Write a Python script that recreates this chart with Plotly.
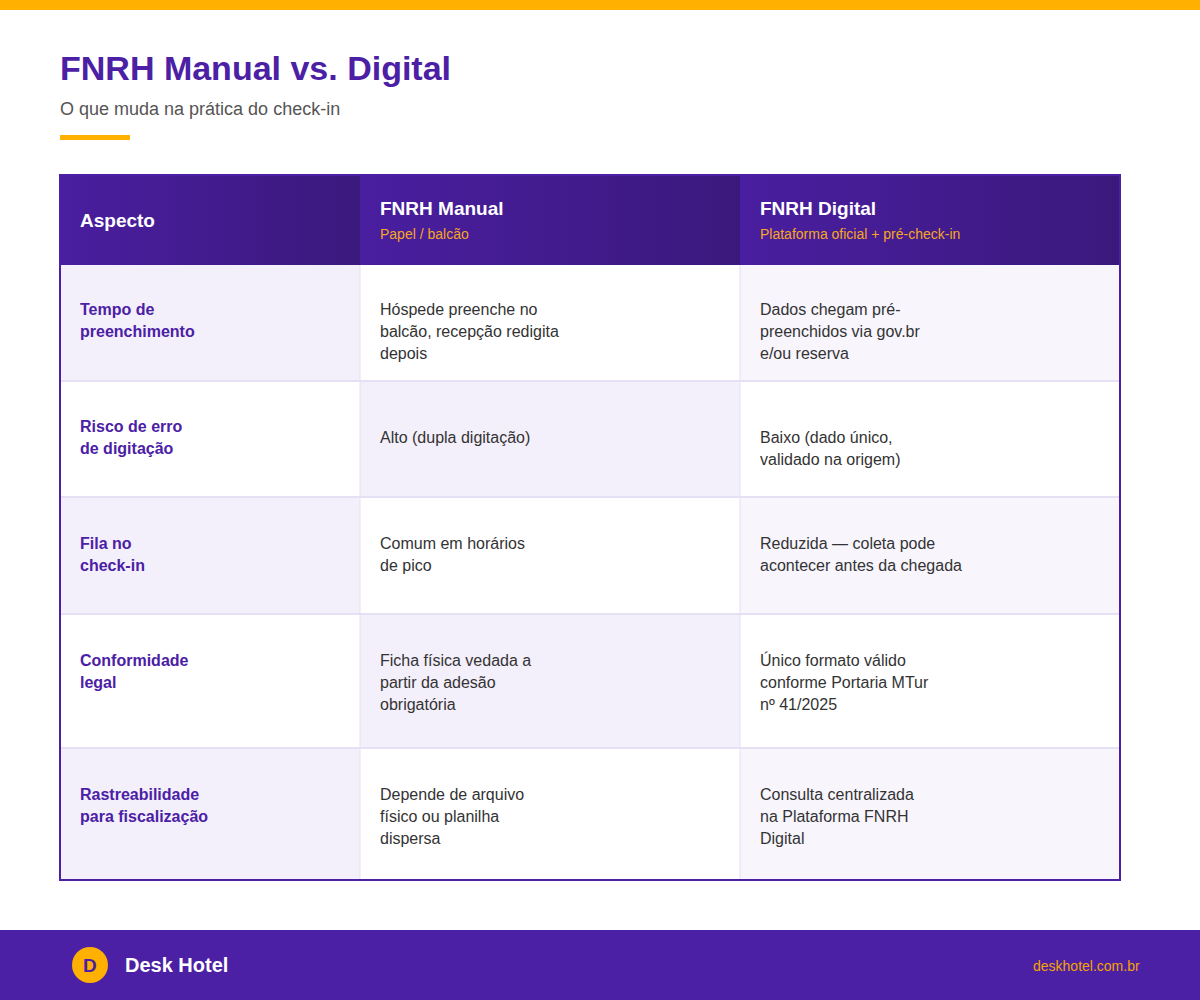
import plotly.graph_objects as go

# table content
headers = ["Aspecto", "FNRH Manual", "FNRH Digital"]
header_notes = ["", "Papel / balcão", "Plataforma oficial + pré-check-in"]
aspects = [
    "Tempo de\npreenchimento",
    "Risco de erro\nde digitação",
    "Fila no\ncheck-in",
    "Conformidade\nlegal",
    "Rastreabilidade\npara fiscalização",
]
manual = [
    "Hóspede preenche no\nbalcão, recepção redigita\ndepois",
    "Alto (dupla digitação)",
    "Comum em horários\nde pico",
    "Ficha física vedada a\npartir da adesão\nobrigatória",
    "Depende de arquivo\nfísico ou planilha\ndispersa",
]
digital = [
    "Dados chegam pré-\npreenchidos via gov.br\ne/ou reserva",
    "Baixo (dado único,\nvalidado na origem)",
    "Reduzida — coleta pode\nacontecer antes da chegada",
    "Único formato válido\nconforme Portaria MTur\nnº 41/2025",
    "Consulta centralizada\nna Plataforma FNRH\nDigital",
]
title = "FNRH Manual vs. Digital"
subtitle = "O que muda na prática do check-in"
brand = "Desk Hotel"
site = "deskhotel.com.br"

# layout (pixels)
PURPLE = "#4b20a5"
ORANGE = "#ffb000"
LAV = "#f3effb"
LAV2 = "#f8f5fd"
SEP = "#e6e0f5"
FONT = "Liberation Sans, Arial, sans-serif"

col_edges = [60, 360, 740, 1120]
header_top = 175
row_edges = [265, 381, 497, 614, 748, 880]
line_h = 22
row_pad = [44, 45, 46, 46, 46]
# the second row of the html table sat a bit lower in the value columns
shift = {(1, 1): 11, (1, 2): 11}
fills = [
    [LAV, "white", LAV2],
    ["white", LAV, "white"],
    [LAV, "white", LAV2],
    ["white", LAV, "white"],
    [LAV, "white", LAV2],
]

fig = go.Figure()
shapes = []
ann = []

# header cells with a horizontal gradient
for c in range(3):
    x0, x1 = col_edges[c], col_edges[c + 1]
    fig.add_trace(go.Scatter(
        x=[x0, x1, x1, x0, x0], y=[header_top, header_top, row_edges[0], row_edges[0], header_top],
        fill="toself", mode="lines", line=dict(width=0),
        fillgradient=dict(type="horizontal", colorscale=[[0, "#4a1ea0"], [1, "#3a197c"]]),
        hoverinfo="skip", showlegend=False))
    if header_notes[c]:
        ann.append(dict(x=x0 + 20, y=208, text="<b>%s</b>" % headers[c],
                        font=dict(size=19, color="white", family=FONT)))
        ann.append(dict(x=x0 + 20, y=234, text=header_notes[c],
                        font=dict(size=14, color="#f5a623", family=FONT)))
    else:
        ann.append(dict(x=x0 + 20, y=220, text="<b>%s</b>" % headers[c],
                        font=dict(size=19, color="white", family=FONT)))

# body cells
columns = [aspects, manual, digital]
for r in range(len(aspects)):
    y0, y1 = row_edges[r], row_edges[r + 1]
    for c in range(3):
        x0, x1 = col_edges[c], col_edges[c + 1]
        shapes.append(dict(type="rect", x0=x0, x1=x1, y0=y0, y1=y1,
                           fillcolor=fills[r][c], line_width=0, layer="below"))
        lines = columns[c][r].split("\n")
        for k, t in enumerate(lines):
            y = y0 + row_pad[r] + shift.get((r, c), 0) + k * line_h
            if c == 0:
                ann.append(dict(x=x0 + 20, y=y, text="<b>%s</b>" % t,
                                font=dict(size=16, color=PURPLE, family=FONT)))
            else:
                ann.append(dict(x=x0 + 20, y=y, text=t,
                                font=dict(size=16, color="#333333", family=FONT)))
    if r > 0:
        shapes.append(dict(type="line", x0=col_edges[0], x1=col_edges[-1], y0=y0, y1=y0,
                           line=dict(color=SEP, width=2)))

for x in col_edges[1:-1]:
    shapes.append(dict(type="line", x0=x, x1=x, y0=row_edges[0], y1=row_edges[-1],
                       line=dict(color=SEP, width=1)))

# outer border of table
shapes.append(dict(type="rect", x0=col_edges[0], x1=col_edges[-1], y0=header_top, y1=row_edges[-1],
                   line=dict(color=PURPLE, width=2), fillcolor="rgba(0,0,0,0)"))

# page decoration
shapes.append(dict(type="rect", x0=0, x1=1200, y0=0, y1=10, fillcolor=ORANGE, line_width=0))
shapes.append(dict(type="rect", x0=60, x1=130, y0=135, y1=140, fillcolor=ORANGE, line_width=0))
shapes.append(dict(type="rect", x0=0, x1=1200, y0=930, y1=1000, fillcolor=PURPLE, line_width=0))
shapes.append(dict(type="circle", x0=72, x1=108, y0=947, y1=983, fillcolor=ORANGE, line_width=0))

ann.append(dict(x=60, y=68, text="<b>%s</b>" % title, font=dict(size=34, color=PURPLE, family=FONT)))
ann.append(dict(x=60, y=109, text=subtitle, font=dict(size=18, color="#555555", family=FONT)))
ann.append(dict(x=90, y=965, text="<b>D</b>", xanchor="center", font=dict(size=19, color=PURPLE, family=FONT)))
ann.append(dict(x=125, y=965, text="<b>%s</b>" % brand, font=dict(size=20, color="white", family=FONT)))
ann.append(dict(x=1140, y=966, text=site, xanchor="right", font=dict(size=14, color="#f5a300", family=FONT)))

for a in ann:
    a.setdefault("xanchor", "left")
    a.update(yanchor="middle", showarrow=False, xref="x", yref="y", borderpad=0, borderwidth=0)

fig.update_layout(
    width=1200, height=1000,
    margin=dict(l=0, r=0, t=0, b=0),
    paper_bgcolor="white", plot_bgcolor="white",
    xaxis=dict(range=[0, 1200], visible=False, fixedrange=True),
    yaxis=dict(range=[1000, 0], visible=False, fixedrange=True),
    shapes=shapes, annotations=ann, showlegend=False,
)

# drop the default 8px body margin so the figure fills the window
fig.write_html("out.html", config={"displayModeBar": False},
               post_script="document.body.style.margin='0';document.body.style.overflow='hidden';")
